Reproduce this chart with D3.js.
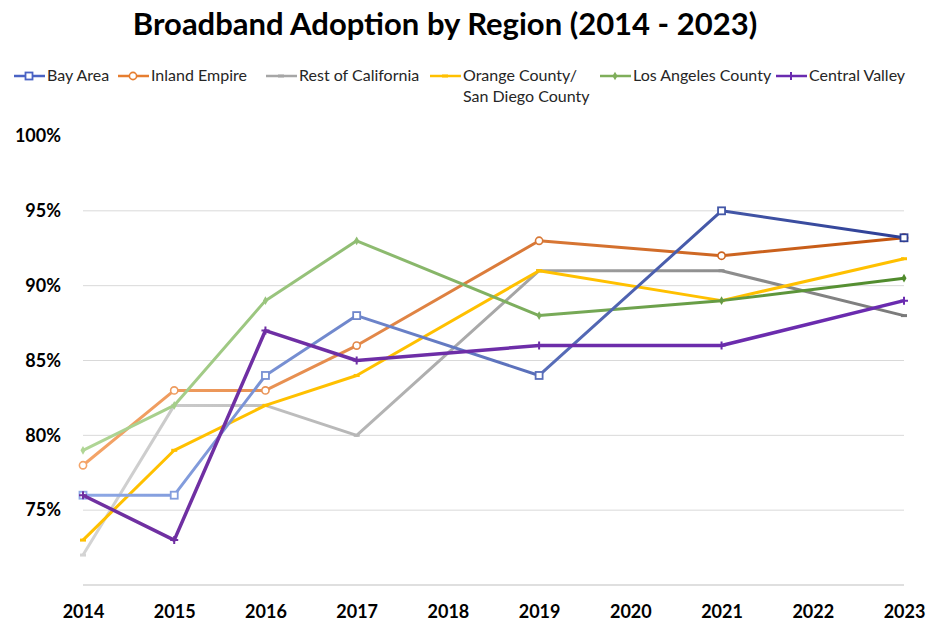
<!DOCTYPE html>
<html><head><meta charset="utf-8">
<script src="https://cdn.jsdelivr.net/npm/d3@7"></script>
<style>body{margin:0;background:#fff;} text{font-family:Lato,"Open Sans",sans-serif;}</style>
</head><body>
<svg id="chart" width="930" height="626"></svg>
<script>
const years = [2014,2015,2016,2017,2018,2019,2020,2021,2022,2023];
const yTicks = [75,80,85,90,95,100];
const seriesNames = ["Bay Area","Inland Empire","Rest of California","Orange County/\nSan Diego County","Los Angeles County","Central Valley"];
const bayArea      = [76,76,84,88,null,84,null,95,null,93.2];
const inlandEmpire = [78,83,83,86,null,93,null,92,null,93.2];
const restOfCA     = [72,82,82,80,null,91,null,91,null,88];
const orangeSD     = [73,79,82,84,null,91,null,89,null,91.8];
const losAngeles   = [79,82,89,93,null,88,null,89,null,90.5];
const centralValley= [76,73,87,85,null,86,null,86,null,89];
const seriesValues = [bayArea,inlandEmpire,restOfCA,orangeSD,losAngeles,centralValley];
const colorsLeft  = ["#8ea9e6","#f4a468","#d4d4d4","#ffc000","#b0d696","#7030a0"];
const colorsRight = ["#2e3f95","#c2540e","#7a7a7a","#ffc000","#4f8a2b","#6a2bb0"];
const legendColors= ["#4a63c4","#e67e30","#a6a6a6","#ffc000","#7fae5a","#6a2bb0"];
const markers = ["square","circle","dash","dash","diamond","plus"];

const svg = d3.select("#chart");
const x = d3.scalePoint().domain(years).range([83,904]);
const y = d3.scaleLinear().domain([70,100]).range([585,136]);

// title
svg.append("text").attr("x",445).attr("y",35).attr("text-anchor","middle")
  .attr("font-size",31).attr("font-weight","bold").attr("fill","#000")
  .text("Broadband Adoption by Region (2014 - 2023)");

// gridlines
const gridVals = [70,75,80,85,90,95];
svg.append("g").selectAll("line").data(gridVals).join("line")
  .attr("x1",x(2014)).attr("x2",x(2023))
  .attr("y1",d=>y(d)).attr("y2",d=>y(d))
  .attr("stroke",d=>d===70?"#bfbfbf":"#d9d9d9").attr("stroke-width",1);

// y axis labels
const yAxis = d3.axisLeft(y).tickValues(yTicks).tickFormat(d=>d+"%").tickSize(0).tickPadding(0);
const gy = svg.append("g").attr("transform","translate(61,0)").call(yAxis);
gy.select(".domain").remove();
gy.selectAll("text").attr("font-size",18).attr("font-weight","bold").attr("fill","#000")
  .style("font-family","Lato, sans-serif");

// x axis labels
const xAxis = d3.axisBottom(x).tickSize(0).tickPadding(0);
const gx = svg.append("g").attr("transform","translate(0,605)").call(xAxis);
gx.select(".domain").remove();
gx.selectAll("text").attr("font-size",18).attr("font-weight","bold").attr("fill","#000")
  .style("font-family","Lato, sans-serif");

// gradients
const defs = svg.append("defs");
seriesValues.forEach((s,i)=>{
  const g = defs.append("linearGradient").attr("id","grad"+i)
    .attr("gradientUnits","userSpaceOnUse")
    .attr("x1",x(2014)).attr("x2",x(2023)).attr("y1",0).attr("y2",0);
  g.append("stop").attr("offset","0%").attr("stop-color",colorsLeft[i]);
  g.append("stop").attr("offset","100%").attr("stop-color",colorsRight[i]);
});

const line = d3.line().x(d=>x(d.year)).y(d=>y(d.v));

function drawMarker(g, type, cx, cy, color){
  if(type==="square"){
    g.append("rect").attr("x",cx-3.5).attr("y",cy-3.5).attr("width",7).attr("height",7)
      .attr("fill","#fff").attr("stroke",color).attr("stroke-width",1.8);
  } else if(type==="circle"){
    g.append("circle").attr("cx",cx).attr("cy",cy).attr("r",3.6)
      .attr("fill","#fff").attr("stroke",color).attr("stroke-width",1.6);
  } else if(type==="dash"){
    g.append("line").attr("x1",cx-3).attr("x2",cx+3).attr("y1",cy).attr("y2",cy)
      .attr("stroke",color).attr("stroke-width",3);
  } else if(type==="diamond"){
    g.append("path").attr("d",d3.symbol().type(d3.symbolDiamond).size(22)())
      .attr("transform",`translate(${cx},${cy})`).attr("fill",color);
  } else if(type==="plus"){
    g.append("path").attr("d",`M${cx-4},${cy}H${cx+4}M${cx},${cy-4}V${cy+4}`)
      .attr("stroke",color).attr("stroke-width",2);
  }
}

const colorAt = (i, year) => d3.interpolateRgb(colorsLeft[i], colorsRight[i])((x(year)-x(2014))/(x(2023)-x(2014)));

// draw series in order (later ones on top)
const drawOrder = [2,3,1,4,0,5];
drawOrder.forEach(i=>{
  const pts = years.map((yr,k)=>({year:yr,v:seriesValues[i][k]})).filter(d=>d.v!==null);
  const g = svg.append("g");
  g.append("path").datum(pts).attr("d",line).attr("fill","none")
    .attr("stroke","url(#grad"+i+")").attr("stroke-width", i===5?3.5:3)
    .attr("stroke-linejoin","round");
  pts.forEach(p=>drawMarker(g, markers[i], x(p.year), y(p.v), colorAt(i,p.year)));
});

// legend
const legendX = [14,118,266,430,600,776];
const legendY = 76;
seriesNames.forEach((name,i)=>{
  const g = svg.append("g");
  const lx = legendX[i];
  g.append("line").attr("x1",lx).attr("x2",lx+31).attr("y1",legendY).attr("y2",legendY)
    .attr("stroke",legendColors[i]).attr("stroke-width",2.5);
  drawMarker(g, markers[i], lx+15, legendY, legendColors[i]);
  const lines = name.split("\n");
  const t = g.append("text").attr("x",lx+33).attr("y",legendY+5)
    .attr("font-size",16).attr("fill","#262626");
  lines.forEach((l,k)=>t.append("tspan").attr("x",lx+33).attr("dy",k===0?0:21).text(l));
});
</script>
</body></html>
